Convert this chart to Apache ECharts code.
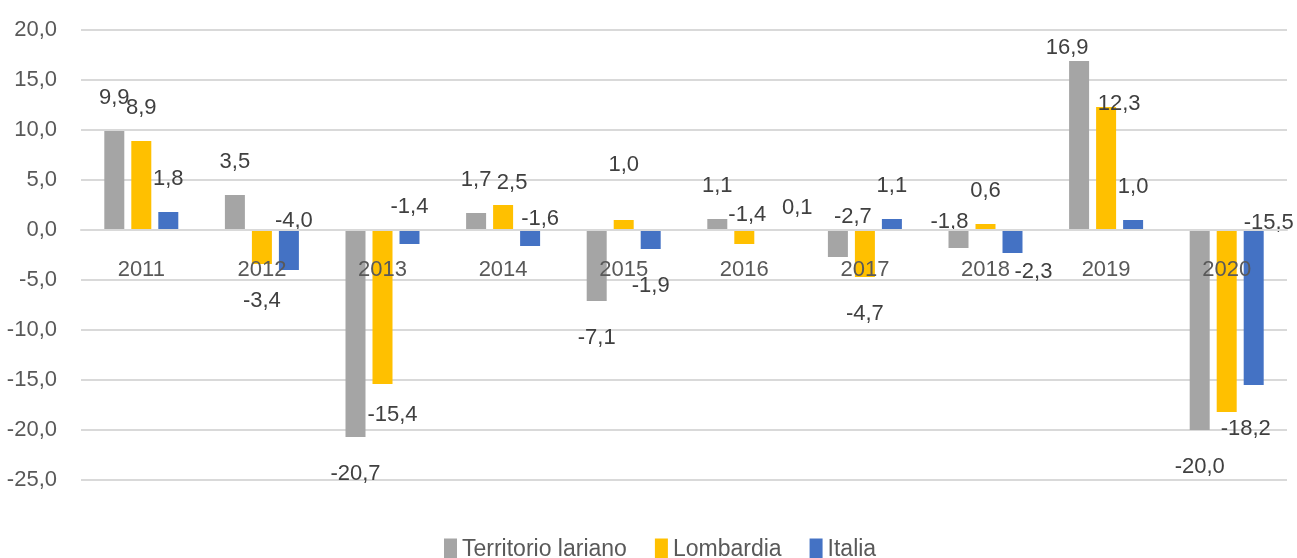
<!DOCTYPE html>
<html>
<head>
<meta charset="utf-8">
<script src="https://cdn.jsdelivr.net/npm/echarts@6/dist/echarts.min.js"></script>
<style>
html,body{margin:0;padding:0;background:#fff;}
#chart{width:1297px;height:558px;}
</style>
</head>
<body>
<div id="chart"></div>
<script>
// ---- data ----
const categories = ['2011','2012','2013','2014','2015','2016','2017','2018','2019','2020'];
const seriesNames = ['Territorio lariano','Lombardia','Italia'];
const territorio = [9.9, 3.5, -20.7, 1.7, -7.1, 1.1, -2.7, -1.8, 16.9, -20.0];
const lombardia  = [8.9, -3.4, -15.4, 2.5, 1.0, -1.4, -4.7, 0.6, 12.3, -18.2];
const italia     = [1.8, -4.0, -1.4, -1.6, -1.9, 0.1, 1.1, -2.3, 1.0, -15.5];
const yMin = -25, yMax = 20, yStep = 5;

// ---- style ----
const colors = ['#a5a5a5','#ffc000','#4472c4'];
const FONT = "'Liberation Sans',sans-serif";
const TEXT = '#404040';
const LABEL_GAP = 29; // gap between zero line and category labels
// label placement tweaks (Excel-like placement), keyed "series:index"
const labelTweaks = {
  '1:2': {offset:[10,-6]},
  '1:3': {offset:[9,11]},
  '1:4': {offset:[0,-22]},
  '1:5': {position:'top', distance:4, offset:[3,0]},
  '1:8': {offset:[13,30]},
  '1:9': {offset:[19,-20]},
  '2:1': {position:'top', distance:0, offset:[5,2]},
  '2:2': {position:'top', distance:12, offset:[0,0]},
  '2:3': {position:'top', distance:0, offset:[10,0]},
  '2:5': {offset:[26,12]},
  '2:7': {offset:[21,-18]},
  '2:9': {position:'top', distance:-4, offset:[15,0]},
  '0:6': {position:'top', distance:2, offset:[15,0]},
  '0:7': {position:'top', distance:0, offset:[-9,3]},
  '0:8': {offset:[-12,20]}
};

const fmt = v => v.toFixed(1).replace('.', ',');
const allData = [territorio, lombardia, italia];

const series = allData.map((arr, si) => ({
  name: seriesNames[si],
  type: 'bar',
  barWidth: 20,
  barGap: '35%',
  itemStyle: {color: colors[si]},
  data: arr.map((v, i) => {
    const t = labelTweaks[si + ':' + i] || {};
    return {
      value: v,
      label: {
        position: t.position || 'outside',
        distance: t.distance !== undefined ? t.distance : (v >= 0 ? 22 : 26),
        offset: t.offset || [0,0]
      }
    };
  }),
  label: {
    show: true,
    formatter: p => fmt(p.value),
    fontFamily: FONT,
    fontSize: 22,
    color: TEXT
  }
}));

const chart = echarts.init(document.getElementById('chart'), null, {renderer:'canvas'});
chart.setOption({
  animation: false,
  backgroundColor: '#fff',
  grid: {left: 81, right: 10, top: 30, bottom: 78},
  legend: {
    data: seriesNames,
    bottom: -8,
    left: 439,
    icon: 'rect',
    itemWidth: 13,
    itemHeight: 22,
    itemGap: 28,
    textStyle: {fontFamily: FONT, fontSize: 23, color: '#595959'}
  },
  xAxis: {
    type: 'category',
    data: categories,
    z: 10,
    axisLine: {show: true, onZero: true, lineStyle: {color: '#d9d9d9', width: 2}},
    axisTick: {show: false},
    axisLabel: {margin: LABEL_GAP, fontFamily: FONT, fontSize: 22, color: '#595959'}
  },
  yAxis: {
    type: 'value',
    min: yMin, max: yMax, interval: yStep,
    axisLine: {show: false},
    axisTick: {show: false},
    splitLine: {lineStyle: {color: '#d9d9d9', width: 2}},
    axisLabel: {margin: 24, fontFamily: FONT, fontSize: 22, color: '#595959', formatter: v => fmt(v)}
  },
  series: series
});

// Category labels sit just below the zero line (as in the original):
// measure where the library's own scale puts 0 versus the axis bottom.
const yZero = chart.convertToPixel({yAxisIndex: 0}, 0);
const yBottom = chart.convertToPixel({yAxisIndex: 0}, yMin);
chart.setOption({
  xAxis: {axisLabel: {margin: LABEL_GAP - (yBottom - yZero)}}
});
</script>
</body>
</html>
